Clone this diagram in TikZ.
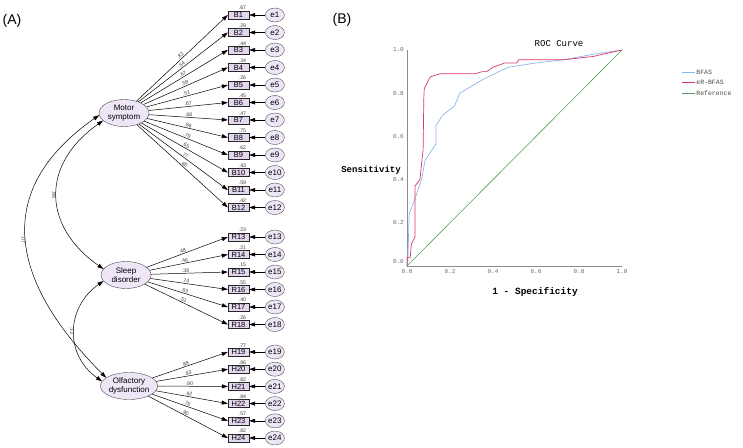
\documentclass[tikz,border=0pt]{standalone}
\usepackage{fontspec}
\setmainfont{Liberation Sans}
\newfontfamily\rocfont{Liberation Mono}
\usetikzlibrary{positioning,shapes.geometric,arrows.meta}
\definecolor{latfill}{HTML}{EEE6F6}
\definecolor{itemfill}{HTML}{E4D6EF}
\definecolor{bfasblue}{HTML}{8DB6E8}
\definecolor{errred}{HTML}{D9386A}
\definecolor{refgreen}{HTML}{5A9A5A}
\tikzset{
  latent/.style={ellipse,draw=black!70,fill=latfill,minimum width=50pt,minimum height=27pt,
    inner sep=0pt,align=center,font=\fontsize{8}{8.5}\selectfont},
  item/.style={rectangle,draw=black!85,fill=itemfill,minimum width=21pt,minimum height=8pt,
    inner sep=0pt,font=\fontsize{7.5}{8}\selectfont},
  error/.style={ellipse,draw=black!70,fill=latfill,minimum width=19pt,minimum height=14pt,
    inner sep=0pt,font=\fontsize{8}{8}\selectfont},
  est/.style={font=\fontsize{5.2}{5.5}\selectfont,text=black!75,inner sep=0.6pt},
  load/.style={-{Triangle[length=6pt,width=4pt]},line width=0.5pt},
  cov/.style={{Triangle[length=6pt,width=4pt]}-{Triangle[length=6pt,width=4pt]},line width=0.5pt},
  axisline/.style={draw=black!45,line width=0.6pt},
  tick/.style={font=\rocfont\fontsize{6}{6}\selectfont,text=black!60,inner sep=1pt},
  panel/.style={font=\fontsize{14}{16}\selectfont}
}
\begin{document}
\begin{tikzpicture}[x=1pt,y=-1pt]
\useasboundingbox (0,0) rectangle (743,447);
\node[panel] (pa) at (12,21) {(A)};
\node[panel] (pb) at (342,20) {(B)};

% latent factors
\node[latent] (ms) at (124,113) {Motor\\symptom};
\node[latent] (sd) at (126,275) {Sleep\\disorder};
\node[latent] (od) at (129,386) {Olfactory\\dysfunction};

% motor items
\foreach \i/\vr/\ld in {1/.67/.82,2/.29/.54,3/.44/.67,4/.34/.59,5/.26/.51,6/.45/.67,
    7/.47/.68,8/.75/.86,9/.62/.79,10/.43/.65,11/.59/.77,12/.42/.65}{
  \node[item] (B\i) at (238.5,{15+(\i-1)*17.5}) {B\i};
  \node[error] (e\i) [right=16pt of B\i] {e\i};
  \node[est,anchor=south] at ([xshift=4pt]B\i.north) {\vr};
  \draw[load] (ms) -- node[est,pos=0.5,sloped,above] {\ld} (B\i.west);
  \draw[load] (e\i) -- (B\i);
}
% sleep items
\foreach \i/\vr/\ld in {13/.23/.48,14/.21/.46,15/.15/.38,16/.55/.74,17/.40/.63,18/.26/.51}{
  \node[item] (R\i) at (238.5,{237+(\i-13)*17.5}) {R\i};
  \node[error] (e\i) [right=16pt of R\i] {e\i};
  \node[est,anchor=south] at ([xshift=4pt]R\i.north) {\vr};
  \draw[load] (sd) -- node[est,pos=0.45,sloped,above] {\ld} (R\i.west);
  \draw[load] (e\i) -- (R\i);
}
% olfactory items
\foreach \i/\vr/\ld in {19/.77/.88,20/.86/.93,21/.82/.90,22/.84/.92,23/.57/.76,24/.82/.90}{
  \node[item] (H\i) at (238.5,{352+(\i-19)*17.2}) {H\i};
  \node[error] (e\i) [right=16pt of H\i] {e\i};
  \node[est,anchor=south] at ([xshift=4pt]H\i.north) {\vr};
  \draw[load] (od) -- node[est,pos=0.45,sloped,above] {\ld} (H\i.west);
  \draw[load] (e\i) -- (H\i);
}

% correlations
\draw[cov] (ms.200) to[out=215,in=145,looseness=1.3]
  node[est,midway,rotate=-90,anchor=north] {.88} (sd.165);
\draw[cov] (ms.185) to[out=215,in=135,looseness=1.3]
  node[est,midway,rotate=-90,anchor=north] {.07} (od.160);
\draw[cov] (sd.195) to[out=215,in=145,looseness=1.17]
  node[est,midway,rotate=-90,anchor=north] {.13} (od.170);

% ROC curve
\begin{scope}[shift={(407,266)},x=215pt,y=216pt]
  \draw[axisline] (0,1) -- (0,0) -- (1,0);
  \foreach \t in {0.2,0.4,0.6,0.8,1.0}{
    \node[tick,left=2pt] at (0,\t) {\t};
    \node[tick,below=2pt] at (\t,0) {\t};
  }
  \node[tick,left=2pt] at (0,0.02) {0.0};
  \node[tick,below=2pt] at (0,0) {0.0};
  \draw[refgreen,line width=0.6pt] (0,0) -- (1,1);
  \draw[bfasblue,line width=0.7pt] plot coordinates {(0,0) (0.004,0.03) (0.01,0.24) (0.04,0.32)
    (0.07,0.41) (0.084,0.49) (0.135,0.565) (0.135,0.65) (0.167,0.70) (0.22,0.74) (0.246,0.80)
    (0.355,0.865) (0.47,0.92) (0.6,0.94) (0.73,0.955) (0.865,0.98) (1,1)};
  \draw[errred,line width=0.7pt] plot coordinates {(0,0) (0,0.04) (0.015,0.04) (0.02,0.1)
    (0.037,0.135) (0.037,0.37) (0.06,0.40) (0.075,0.54) (0.078,0.77) (0.08,0.82) (0.107,0.875)
    (0.153,0.89) (0.32,0.89) (0.35,0.90) (0.37,0.90) (0.40,0.92) (0.455,0.94) (0.51,0.94)
    (0.52,0.955) (0.73,0.955) (0.865,0.97) (1,1)};
\end{scope}
\node[font=\rocfont\fontsize{9}{9}\selectfont] (title) at (559,44) {ROC Curve};
\node[font=\rocfont\bfseries\fontsize{9}{9}\selectfont] (ylab) at (371,170) {Sensitivity};
\node[font=\rocfont\bfseries\fontsize{9.5}{9.5}\selectfont] (xlab) at (535,292) {1 - Specificity};

% legend
\foreach \c/\txt/\y in {bfasblue/BFAS/72,errred/eR-BFAS/82,refgreen/Reference/93}{
  \coordinate (l\y) at (682,\y);
  \draw[\c,line width=0.7pt] (l\y) -- ++(13,0)
    node[right=1pt,font=\rocfont\fontsize{6.5}{7}\selectfont,text=black!70,inner sep=0pt] {\txt};
}
\end{tikzpicture}
\end{document}
